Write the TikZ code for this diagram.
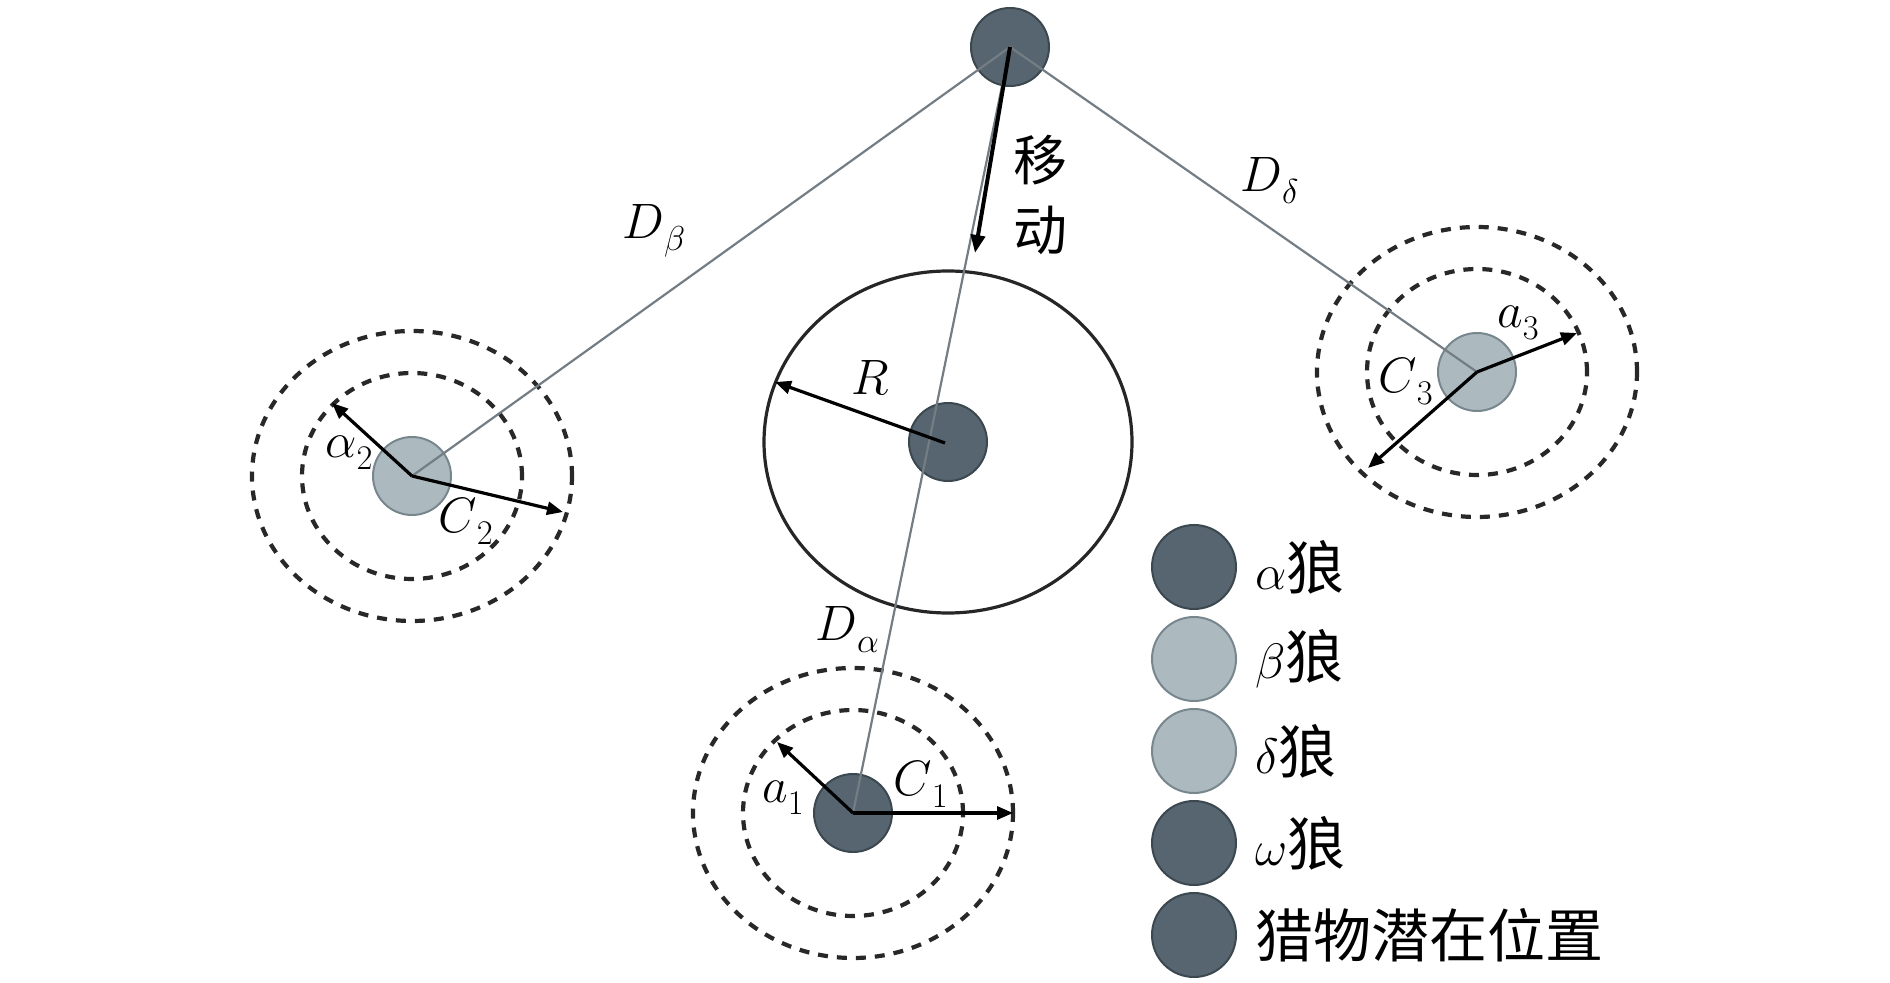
\documentclass[tikz,border=0pt]{standalone}
\usepackage{fontspec}
\newfontfamily\cjk{Noto Sans CJK SC}
\usetikzlibrary{arrows.meta}
\definecolor{wdark}{RGB}{86,101,111}
\definecolor{wdarkb}{RGB}{60,72,80}
\definecolor{wlight}{RGB}{172,186,191}
\definecolor{wlightb}{RGB}{120,135,141}
\definecolor{thingray}{RGB}{115,125,131}
\definecolor{dashgray}{RGB}{40,40,40}
\newcommand\sublbl[2]{$#1$\raisebox{-6pt}{\fontsize{18pt}{18pt}\selectfont$#2$}}
\tikzset{
  wolfdark/.style={circle,fill=wdark,draw=wdarkb,line width=1pt,minimum size=39pt,inner sep=0pt},
  wolflight/.style={circle,fill=wlight,draw=wlightb,line width=1pt,minimum size=39pt,inner sep=0pt},
  legdark/.style={wolfdark,minimum size=42pt},
  leglight/.style={wolflight,minimum size=42pt},
  thinline/.style={draw=thingray,line width=1.1pt},
  dashring/.style={draw=dashgray,line width=2.1pt,dash pattern=on 5pt off 4.5pt},
  bigring/.style={draw=black!85,line width=1.6pt},
  vecarrow/.style={draw=black,line width=1.6pt,-{Triangle[length=8pt,width=6.5pt]}},
  movearrow/.style={draw=black,line width=2pt,-{Triangle[length=9pt,width=7pt]}},
  lbl/.style={font=\fontsize{31pt}{33pt}\selectfont,inner sep=0pt,anchor=base west},
  cjklbl/.style={font=\fontsize{27pt}{30pt}\selectfont\cjk,inner sep=0pt},
  legtext/.style={font=\fontsize{29pt}{31pt}\selectfont,inner sep=0pt,anchor=west}
}
\begin{document}
\begin{tikzpicture}[x=0.5pt,y=-0.5pt]
\useasboundingbox (0,0) rectangle (1890,983);
% wolves
\node[wolfdark] (prey) at (1010,47) {};
\node[wolfdark] (omega) at (948,442) {};
\node[wolflight] (beta) at (412,476) {};
\node[wolflight] (delta) at (1477,372) {};
\node[wolfdark] (alpha) at (853,813) {};
% rings
\draw[bigring] (omega.center) ellipse [x radius=92pt,y radius=85.5pt];
\foreach \w in {beta,delta,alpha}{
  \draw[dashring] (\w.center) ellipse [x radius=80pt,y radius=72.5pt];
  \draw[dashring] (\w.center) ellipse [x radius=55pt,y radius=51.5pt];
}
% distance lines
\draw[thinline] (prey.center) -- (beta.center);
\draw[thinline] (prey.center) -- (delta.center);
\draw[thinline] (prey.center) -- (alpha.center);
% arrow tips
\coordinate (a1tip) at (777,742);
\coordinate (c1tip) at (1013,813);
\coordinate (a2tip) at (332,403);
\coordinate (c2tip) at (563,512);
\coordinate (a3tip) at (1577,333);
\coordinate (c3tip) at (1368,468);
\coordinate (rtip) at (775,382);
\coordinate (rstart) at (945,443);
\coordinate (movetip) at (975,253);
\draw[vecarrow] (alpha.center) -- (a1tip);
\draw[vecarrow] (alpha.center) -- (c1tip);
\draw[vecarrow] (beta.center) -- (a2tip);
\draw[vecarrow] (beta.center) -- (c2tip);
\draw[vecarrow] (delta.center) -- (a3tip);
\draw[vecarrow] (delta.center) -- (c3tip);
\draw[vecarrow] (rstart) -- (rtip);
\draw[movearrow] (prey.center) -- (movetip);
% labels
\node[lbl] (dbeta) at (622,239) {\sublbl{D}{\beta}};
\node[lbl] (ddelta) at (1240,192) {\sublbl{D}{\delta}};
\node[lbl] (dalpha) at (815,640) {\sublbl{D}{\alpha}};
\node[lbl] (rlbl) at (851,395) {$R$};
\node[lbl] (alpha2) at (325,458) {\sublbl{\alpha}{2}};
\node[lbl] (c2) at (438,533) {\sublbl{C}{2}};
\node[lbl] (a3) at (1497,328) {\sublbl{a}{3}};
\node[lbl] (c3) at (1378,393) {\sublbl{C}{3}};
\node[lbl] (a1) at (762,802) {\sublbl{a}{1}};
\node[lbl] (c1) at (893,795) {\sublbl{C}{1}};
\node[cjklbl] (mv1) at (1040,160) {移};
\node[cjklbl] (mv2) at (1040,230) {动};
% legend
\node[legdark] (l1) at (1194,567) {};
\node[leglight] (l2) at (1194,659) {};
\node[leglight] (l3) at (1194,751) {};
\node[legdark] (l4) at (1194,843) {};
\node[legdark] (l5) at (1194,935) {};
\node[legtext] (t1) at (1255,567) {$\alpha${\cjk 狼}};
\node[legtext] (t2) at (1255,659) {$\beta${\cjk 狼}};
\node[legtext] (t3) at (1255,751) {$\delta${\cjk 狼}};
\node[legtext] (t4) at (1255,843) {$\omega${\cjk 狼}};
\node[legtext] (t5) at (1255,935) {{\cjk 猎物潜在位置}};
\end{tikzpicture}
\end{document}
